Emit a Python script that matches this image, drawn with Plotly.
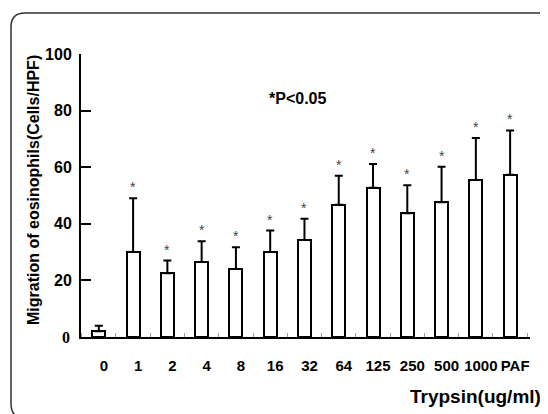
import plotly.graph_objects as go

categories = ["0", "1", "2", "4", "8", "16", "32", "64", "125", "250", "500", "1000", "PAF"]
means = [2, 30, 22.5, 26.5, 24, 30, 34.3, 46.7, 52.7, 43.7, 47.6, 55.5, 57.3]
errors = [2, 19, 4.5, 7.3, 7.7, 7.6, 7.5, 10.3, 8.4, 9.9, 12.6, 14.8, 15.7]
significant = [False] + [True] * 12
y_ticks = [20, 40, 60, 80, 100]

W, H = 548, 414
L, R, T, B = 73, 26, 46, 85
PW, PH = W - L - R, H - T - B


def px(x):
    return (x - L) / PW


def py(y):
    return (H - B - y) / PH


xs = list(range(len(categories)))

fig = go.Figure()
fig.add_trace(go.Bar(
    x=xs, y=means, width=0.38,
    marker=dict(color="white", line=dict(color="black", width=2)),
    error_y=dict(type="data", array=errors, arrayminus=[0] * len(errors),
                 symmetric=False, color="black", thickness=2, width=4),
    showlegend=False,
))

ann = []
for i, (m, e, s) in enumerate(zip(means, errors, significant)):
    if s:
        ann.append(dict(x=i, y=m + e, xref="x", yref="y", text="*", showarrow=False,
                        yanchor="bottom", yshift=1,
                        font=dict(family="Liberation Sans", size=14, color="#444")))

ann.append(dict(x=px(289), y=py(90), xref="paper", yref="paper", text="<b>*P<0.05</b>",
                showarrow=False, font=dict(family="Liberation Sans", size=16, color="black"),
                xanchor="center", yanchor="middle"))
ann.append(dict(x=px(535), y=py(388), xref="paper", yref="paper", text="<b>Trypsin(ug/ml)</b>",
                showarrow=False, font=dict(family="Liberation Sans", size=19, color="black"),
                xanchor="right", yanchor="middle"))
ann.append(dict(x=px(25), y=py(182), xref="paper", yref="paper",
                text="<b>Migration of eosinophils(Cells/HPF)</b>", textangle=-90,
                showarrow=False, font=dict(family="Liberation Sans", size=16, color="black"),
                xanchor="center", yanchor="middle"))
ann.append(dict(x=0, y=0, xref="paper", yref="y", text="<b>0</b>", xanchor="right", xshift=-9,
                showarrow=False, font=dict(family="Liberation Serif", size=16, color="black"),
                yanchor="middle"))

# rounded page border
x0, x1, y0, y1 = px(3), px(545), py(410), py(5)
rx, ry = 14 / PW, 14 / PH
path = (f"M {x0+rx},{y1} L {x1-rx},{y1} Q {x1},{y1} {x1},{y1-ry} "
        f"L {x1},{y0+ry} Q {x1},{y0} {x1-rx},{y0} L {x0+rx},{y0} "
        f"Q {x0},{y0} {x0},{y0+ry} L {x0},{y1-ry} Q {x0},{y1} {x0+rx},{y1} Z")

fig.update_layout(
    width=W, height=H,
    margin=dict(l=L, r=R, t=T, b=B, pad=0),
    paper_bgcolor="white", plot_bgcolor="white",
    bargap=0,
    annotations=ann,
    shapes=[dict(type="path", path=path, xref="paper", yref="paper",
                 line=dict(color="#333", width=1.5))],
    font=dict(family="Liberation Sans", color="black"),
)
fig.update_xaxes(
    range=[-0.52, 12.58], tickmode="array", tickvals=xs,
    ticktext=[f"<b>{c}</b>" for c in categories],
    ticks="", showgrid=False, zeroline=False,
    showline=True, linecolor="black", linewidth=2,
    tickfont=dict(family="Liberation Sans", size=15, color="black"),
    ticklabelshift=5, ticklabelstandoff=14,
    minor=dict(ticks="inside", tick0=0.5, dtick=1, ticklen=4, tickcolor="#999", tickwidth=1),
)
fig.update_yaxes(
    range=[0, 100], tickmode="array", tickvals=y_ticks,
    ticktext=[f"<b>{v}</b>" for v in y_ticks],
    ticks="inside", ticklen=10, tickwidth=2, tickcolor="black",
    showgrid=False, zeroline=False,
    showline=True, linecolor="black", linewidth=2,
    tickfont=dict(family="Liberation Sans", size=16, color="black"),
    ticklabelstandoff=4,
)

fig.write_html("out.html")
